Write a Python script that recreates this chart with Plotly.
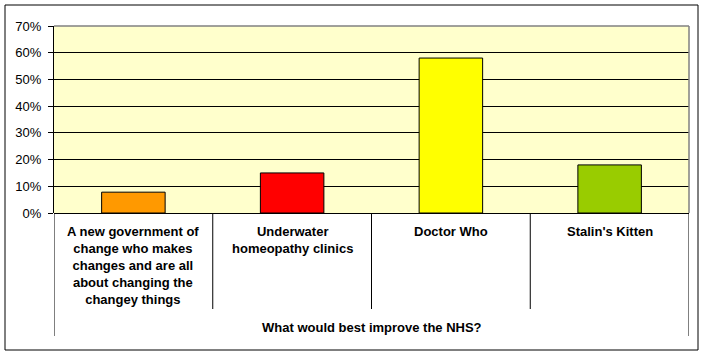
import plotly.graph_objects as go

categories = [
    "A new government of<br>change who makes<br>changes and are all<br>about changing the<br>changey things",
    "Underwater<br>homeopathy clinics",
    "Doctor Who",
    "Stalin's Kitten",
]
values = [0.078, 0.15, 0.58, 0.18]
colors = ["#FF9900", "#FF0000", "#FFFF00", "#99CC00"]
axis_title = "What would best improve the NHS?"

W, H = 704, 355
L, R, T, B = 54, 15, 26, 142
pw, ph = W - L - R, H - T - B

def px_x(p):
    return (p - L) / pw

def px_y(p):
    return (H - B - p) / ph

font = "Liberation Sans, Arial, sans-serif"
x = list(range(len(categories)))

fig = go.Figure(go.Bar(
    x=x, y=values, width=0.4,
    marker=dict(color=colors, line=dict(color="black", width=1)),
    hoverinfo="skip",
))

shapes = []
# plot area gray border top & right
shapes.append(dict(type="line", xref="paper", yref="paper", x0=0, x1=1, y0=1, y1=1,
                   line=dict(color="#808080", width=1.5)))
shapes.append(dict(type="line", xref="paper", yref="paper", x0=1, x1=1, y0=0, y1=1,
                   line=dict(color="#808080", width=1.5)))
# category separators
n = len(categories)
for i in range(n + 1):
    xv = i - 0.5
    depth = 123 if i in (0, n) else 96
    shapes.append(dict(type="line", xref="x", yref="paper", ysizemode="pixel", yanchor=0,
                       x0=xv, x1=xv, y0=0, y1=-depth, line=dict(color="black", width=1)))
# outer chart border
shapes.append(dict(type="rect", xref="paper", yref="paper",
                   x0=px_x(5), x1=px_x(698), y0=px_y(350), y1=px_y(5),
                   line=dict(color="black", width=1), fillcolor="rgba(0,0,0,0)", layer="below"))

annotations = []
for i, c in enumerate(categories):
    annotations.append(dict(x=i, y=0, xref="x", yref="paper", yanchor="top", yshift=-9,
                            text="<b>" + c + "</b>", showarrow=False, align="center",
                            font=dict(family=font, size=13, color="black")))
annotations.append(dict(x=0.5, y=px_y(327), xref="paper", yref="paper", yanchor="middle",
                        text="<b>" + axis_title + "</b>", showarrow=False,
                        font=dict(family=font, size=13, color="black")))

fig.update_layout(
    width=W, height=H, autosize=False,
    margin=dict(l=L, r=R, t=T, b=B, pad=0),
    paper_bgcolor="white", plot_bgcolor="#FFFFCC",
    showlegend=False, bargap=0.6,
    shapes=shapes, annotations=annotations,
    xaxis=dict(range=[-0.5, n - 0.5], showticklabels=False, showgrid=False, zeroline=False,
               showline=False, ticks="", fixedrange=True),
    yaxis=dict(range=[0, 0.7], dtick=0.1, tick0=0, tickformat=".0%",
               showgrid=True, gridcolor="black", gridwidth=1,
               zeroline=True, zerolinecolor="black", zerolinewidth=1,
               showline=True, linecolor="black", linewidth=1,
               ticks="outside", ticklen=5, tickcolor="black", tickwidth=1,
               ticklabelstandoff=4,
               tickfont=dict(family=font, size=13, color="black"), fixedrange=True),
)

fig.write_html("out.html")
